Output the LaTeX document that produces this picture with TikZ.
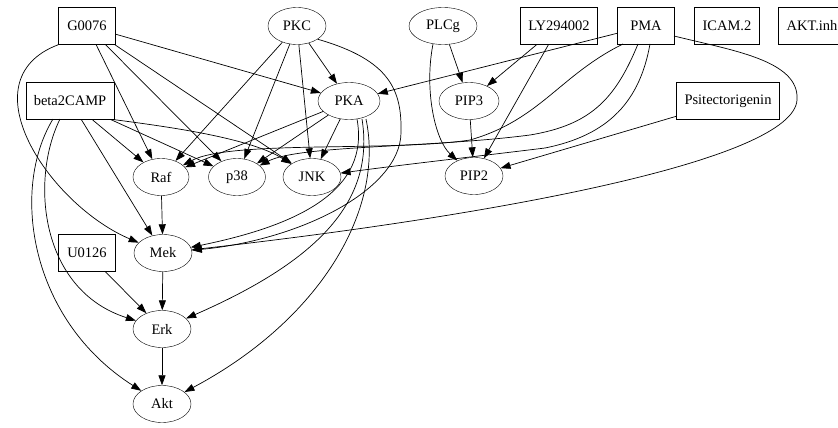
\documentclass[tikz,border=0pt]{standalone}
\usepackage{fontspec}
\setmainfont{Liberation Serif}
\usetikzlibrary{arrows.meta}
\usetikzlibrary{shapes.geometric}

\begin{document}
\begin{tikzpicture}[x=1pt, y=-1pt,
    font=\fontsize{14.5}{17}\selectfont,
    prot/.style={ellipse, draw=black, minimum width=58pt,
        minimum height=37pt, inner sep=1pt},
    drug/.style={rectangle, draw=black, minimum width=57pt,
        minimum height=37pt, inner xsep=8pt},
    link/.style={-{Triangle[length=10pt, width=7pt]}, line width=0.7pt}]

    \useasboundingbox (0,0) rectangle (838,428);

    % first rank
    \node[drug] (g0076) at (87,26) {G0076};
    \node[prot] (pkc) at (297,26) {PKC};
    \node[prot, minimum width=68pt] (plcg) at (443,26) {PLCg};
    \node[drug] (ly) at (559,26) {LY294002};
    \node[drug] (pma) at (646,26) {PMA};
    \node[drug] (icam) at (727,26) {ICAM.2};
    \node[drug] (aktinh) at (812,26) {AKT.inh};

    % second rank
    \node[drug] (b2camp) at (70,101) {beta2CAMP};
    \node[prot, minimum width=62pt] (pka) at (349,101) {PKA};
    \node[prot, minimum width=60pt] (pip3) at (469,101) {PIP3};
    \node[drug] (psit) at (728,101) {Psitectorigenin};

    % third rank
    \node[prot, minimum width=56pt] (raf) at (161,177) {Raf};
    \node[prot, minimum width=57pt] (p38) at (237,177) {p38};
    \node[prot] (jnk) at (312,177) {JNK};
    \node[prot] (pip2) at (474,176) {PIP2};

    % lower ranks
    \node[drug] (u0126) at (87,253) {U0126};
    \node[prot] (mek) at (163,253) {Mek};
    \node[prot] (erk) at (162,329) {Erk};
    \node[prot] (akt) at (162,404) {Akt};

    \foreach \a/\b in {g0076/pka, g0076/raf, g0076/p38, g0076/jnk,
        pkc/pka, pkc/raf, pkc/p38, pkc/jnk,
        b2camp/raf, b2camp/p38, b2camp/mek,
        pka/raf, pka/p38, pka/jnk, pma/pka,
        plcg/pip3, ly/pip3, ly/pip2, pip3/pip2, psit/pip2,
        raf/mek, mek/erk, u0126/erk, erk/akt}
    {
        \draw[link] (\a) -- (\b);
    }

    % curved links
    \draw[link] (g0076.south west) .. controls (-35,80) and (50,205) .. (mek);
    \draw[link] (b2camp.south east) .. controls (170,127) and (250,138) .. (jnk);
    \draw[link] (53,119) .. controls (10,190) and (30,320) .. (akt);
    \draw[link] (60,119) .. controls (30,180) and (40,290) .. (erk);
    \draw[link] (pkc.south east) .. controls (390,60) and (402,90) .. (401,133)
        .. controls (400,190) and (300,240) .. (mek);
    \draw[link] (357,119) .. controls (370,190) and (300,225) .. (mek);
    \draw[link] (362,119) .. controls (375,200) and (320,260) .. (erk);
    \draw[link] (366,119) .. controls (385,210) and (320,320) .. (akt);
    \draw[link] (674,36) .. controls (730,50) and (800,60) .. (797,100)
        .. controls (793,160) and (500,215) .. (mek);
    \draw[link] (623,44) .. controls (560,75) and (540,120) .. (470,140)
        .. controls (390,152) and (230,140) .. (raf);
    \draw[link] (638,44) .. controls (615,100) and (590,125) .. (530,135)
        .. controls (430,148) and (300,145) .. (p38);
    \draw[link] (650,44) .. controls (640,100) and (610,135) .. (545,148)
        .. controls (480,156) and (400,165) .. (jnk);
    \draw[link] (433,44) .. controls (424,90) and (435,140) .. (pip2);
\end{tikzpicture}
\end{document}
